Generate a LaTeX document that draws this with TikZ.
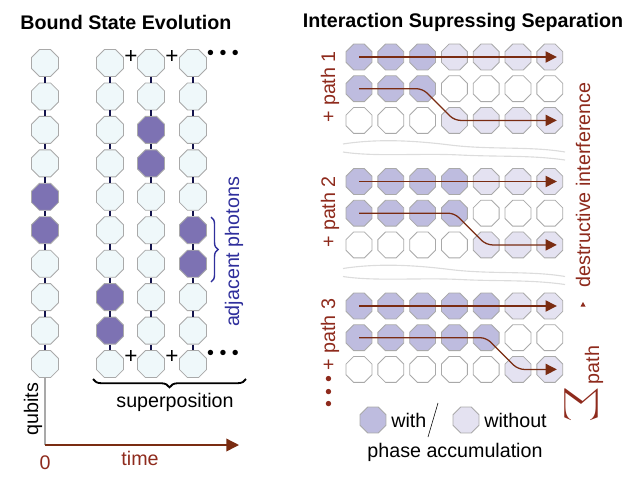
\documentclass[tikz,border=0pt]{standalone}
\usepackage{fontspec}
\setmainfont{Liberation Sans}
\usepackage{xcolor}
\usepackage{tikz}
\usetikzlibrary{shapes}
\usetikzlibrary{calc}
\usetikzlibrary{arrows.meta}
\usetikzlibrary{decorations.pathreplacing}

\definecolor{qbempty}{HTML}{EFF8FA}
\definecolor{qbfull}{HTML}{7D72B3}
\definecolor{qbedge}{HTML}{A9A9A9}
\definecolor{qblink}{HTML}{14144C}
\definecolor{withph}{HTML}{BEBCDF}
\definecolor{withoutph}{HTML}{E4E2F1}
\definecolor{darkred}{HTML}{8E2A1C}
\definecolor{arrowbrown}{HTML}{7A2C12}
\definecolor{photonblue}{HTML}{2F2F9C}
\definecolor{wavegray}{HTML}{DCDCDC}

\tikzset{
	every node/.style={font=\fontsize{14}{16}\selectfont},
	title/.style={font=\fontsize{14}{16}\selectfont\bfseries},
	qubit/.style={regular polygon, regular polygon sides=8, minimum size=7.3mm, inner sep=0pt, draw=qbedge, line width=0.6pt},
	site/.style={regular polygon, regular polygon sides=8, minimum size=7mm, inner sep=0pt, draw=qbedge, line width=0.6pt},
	link/.style={qblink, line width=1.8pt},
	patharrow/.style={arrowbrown, line width=0.9pt, rounded corners=1.5mm, -{Triangle[length=8pt,width=8pt]}},
	wave/.style={wavegray, line width=0.8pt}
}

\begin{document}
\begin{tikzpicture}[x=0.25mm,y=-0.25mm]
		\useasboundingbox (0,0) rectangle (640,480);

		% Titles
		\node at (126,22) (t1) [title] {Bound State Evolution};
		\node at (463,22) (t2) [title] {Interaction Supressing Separation};

		% Chains of qubits
		\foreach \c/\x/\pa/\pb in {0/45/5/6,1/110/8/9,2/151/3/4,3/193/6/7}{
			\foreach \i in {1,...,10}{
				\def\fc{qbempty}
				\ifnum\i=\pa \def\fc{qbfull}\fi
				\ifnum\i=\pb \def\fc{qbfull}\fi
				\node at (\x,{63+33.45*(\i-1)}) (q\c-\i) [qubit, fill=\fc] {};
			}
			\foreach \i [count=\j from 2] in {1,...,9}{
				\draw[link] (q\c-\i.south) -- (q\c-\j.north);
			}
		}

		% Superposition
		\node at (131,57) (pt1) {\fontsize{16}{16}\selectfont +};
		\node at (172,57) (pt2) {\fontsize{16}{16}\selectfont +};
		\node at (223,55) (dt) {\textbullet{} \textbullet{} \textbullet};
		\node at (131,357) (pb1) {\fontsize{16}{16}\selectfont +};
		\node at (172,357) (pb2) {\fontsize{16}{16}\selectfont +};
		\node at (223,355) (db) {\textbullet{} \textbullet{} \textbullet};
		\draw[decorate, decoration={brace, mirror, amplitude=6pt}, line width=1.3pt] (93,379) -- (246,379);
		\node at (175,402) (sup) {superposition};

		\draw[photonblue, decorate, decoration={brace, amplitude=5pt}, line width=1pt] (211,217) -- (211,282);
		\node at (234,252) (adj) [rotate=90, text=photonblue] {adjacent photons};

		% Axes
		\coordinate (origin) at (45,445);
		\coordinate (tend) at (239,445);
		\draw[qbedge, line width=1pt] (q0-10.south) -- (origin);
		\draw[arrowbrown, line width=1pt, -{Triangle[length=9pt,width=9pt]}] (origin) -- (tend);
		\node at (33,409) (qb) [rotate=90] {qubits};
		\node at (45,463) (zero) [text=darkred] {0};
		\node at (140,458) (time) [text=darkred] {time};

		% Paths
		\foreach \g in {0,1,2}{
			\pgfmathtruncatemacro\k{3+\g}
			\pgfmathtruncatemacro\kk{4+\g}
			\foreach \r in {0,1,2}{
				\foreach \c in {1,...,7}{
					\ifnum\c>\k
						\ifcase\r \def\fc{withoutph}\or \def\fc{white}\or \def\fc{withoutph}\fi
					\else
						\ifcase\r \def\fc{withph}\or \def\fc{withph}\or \def\fc{white}\fi
					\fi
					\node at ({359+31.8*(\c-1)},{57+124.5*\g+31.7*\r}) (s\g-\r-\c) [site, fill=\fc] {};
				}
			}
			\draw[patharrow] (s\g-0-1.center) -- ($(s\g-0-7.center)+(7,0)$);
			\draw[patharrow] (s\g-1-1.center) -- (s\g-1-\k.center) -- (s\g-2-\kk.center) -- ($(s\g-2-7.center)+(7,0)$);
		}

		% Separators
		\foreach \s in {0,124.5}{
			\draw[wave] (343,{144+\s}) .. controls (375,{139+\s}) and (410,{140+\s}) .. (450,{145+\s}) .. controls (490,{150+\s}) and (530,{146+\s}) .. (565,{152+\s});
			\draw[wave] (343,{152+\s}) .. controls (375,{157+\s}) and (420,{153+\s}) .. (460,{155+\s}) .. controls (500,{157+\s}) and (530,{155+\s}) .. (565,{160+\s});
		}

		\node at (330,87) (lp1) [rotate=90, text=darkred] {+ path 1};
		\node at (330,212) (lp2) [rotate=90, text=darkred] {+ path 2};
		\node at (330,353) (lp3) [rotate=90, text=darkred] {\textbullet{} \textbullet{} \textbullet{} + path 3};

		% Interference
		\node at (583,185) (di) [rotate=90, text=darkred] {destructive interference};
		\fill[darkred] (580.5,306.5) -- (585.5,306.5) -- (583,302) -- cycle;
		\node at (581,405) (sig) [rotate=90, text=darkred] {\reflectbox{\scalebox{1.7}{$\displaystyle\sum$}}};
		\node at (594,365) (sp) [rotate=90, text=darkred] {path};

		% Legend
		\node at (373,420) (lw) [site, fill=withph] {};
		\node [right] at (lw.east) (tw) {with};
		\draw (438,403) -- (428,437);
		\node at (466,420) (lwo) [site, fill=withoutph] {};
		\node [right] at (lwo.east) (two) {without};
		\node at (455,452) (pa) {phase accumulation};
	\end{tikzpicture}
\end{document}
